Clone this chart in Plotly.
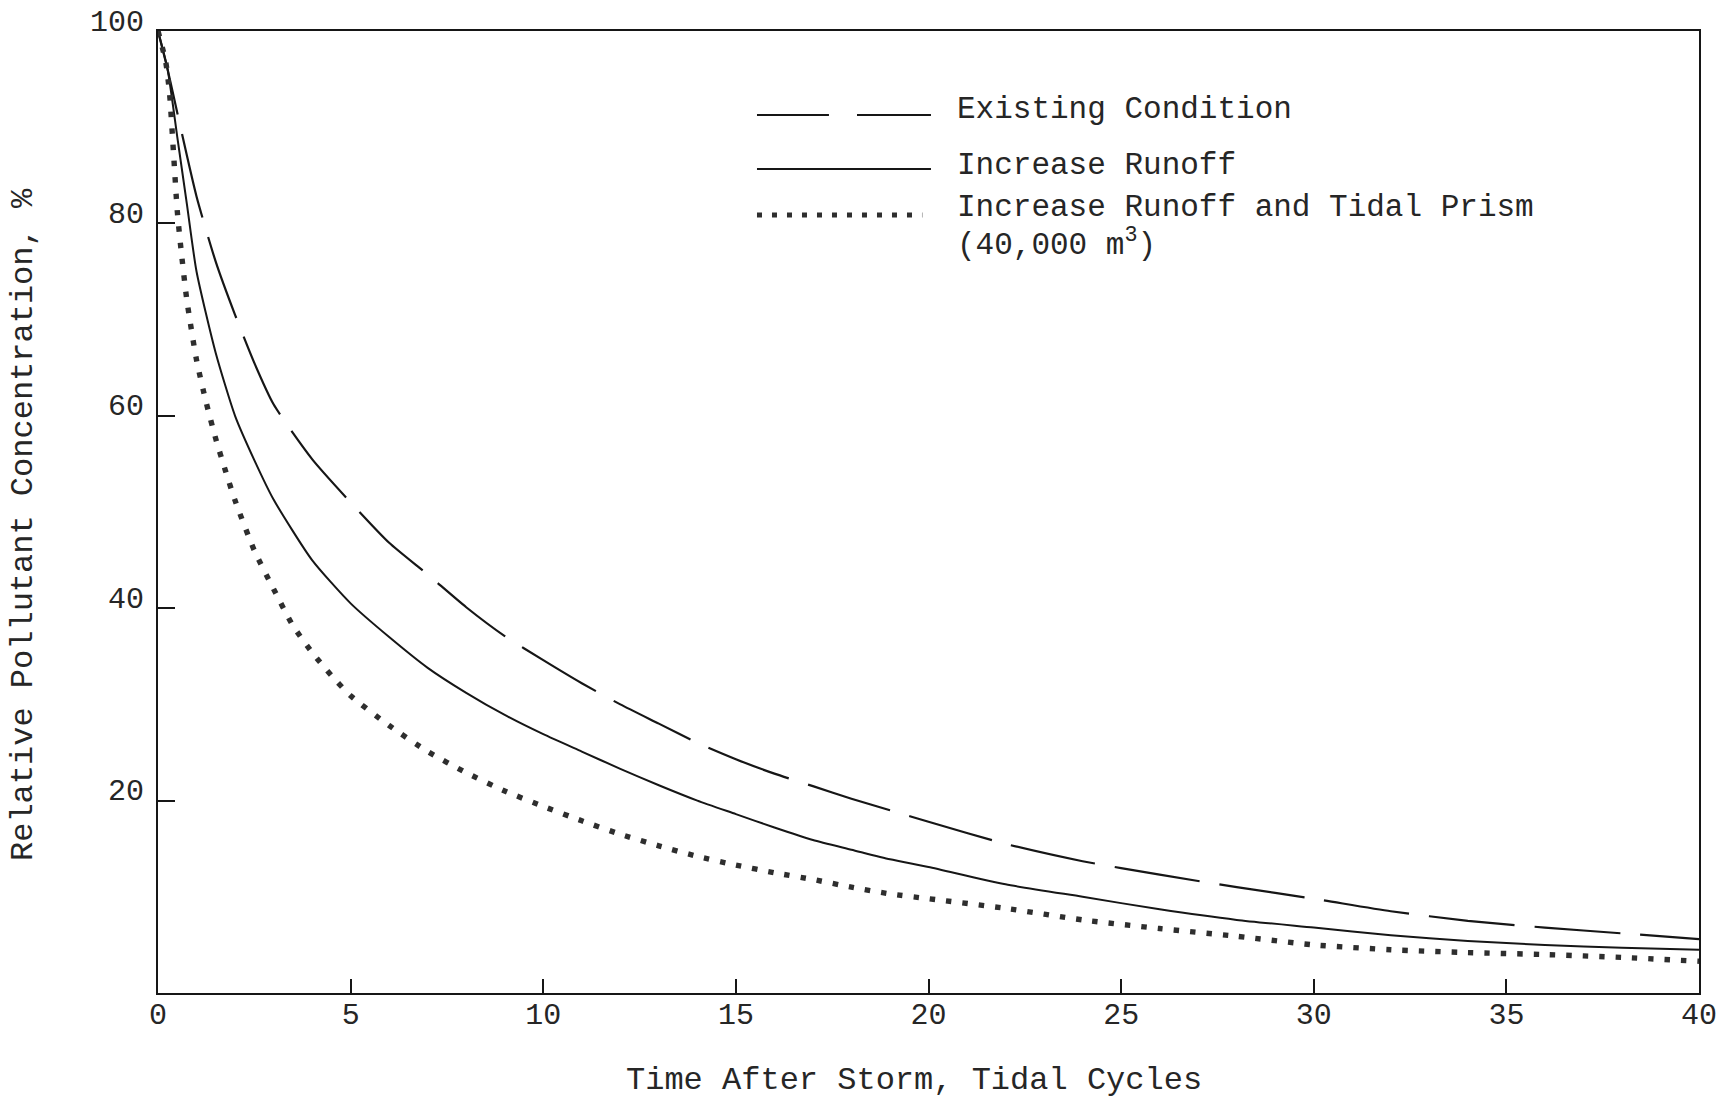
import plotly.graph_objects as go

# Time after storm (tidal cycles) and relative concentration (%) per scenario
t_existing = [0, 0.25, 0.5, 1, 1.5, 2, 2.5, 3, 4, 5, 6, 7, 8, 9, 10, 11, 12, 13, 14, 15,
              16, 17, 18, 19, 20, 22, 24, 26, 28, 30, 32, 34, 36, 38, 40]
c_existing = [100, 96, 91.5, 82.8, 76, 70.5, 65.5, 61.2, 55.5, 51.0, 46.8, 43.5, 40.1, 37.1,
              34.6, 32.2, 30.0, 28.0, 26.0, 24.3, 22.8, 21.5, 20.2, 19.0, 17.8, 15.5, 13.7,
              12.3, 11.0, 9.8, 8.5, 7.5, 6.8, 6.2, 5.6]

t_runoff = [0, 0.25, 0.5, 0.75, 1, 1.5, 2, 2.5, 3, 4, 5, 6, 7, 8, 9, 10, 11, 12, 13, 14, 15,
            16, 17, 18, 19, 20, 22, 24, 26, 28, 30, 32, 34, 36, 38, 40]
c_runoff = [100, 96, 89, 82, 75, 66.5, 60, 55.4, 51.3, 45, 40.5, 37, 33.8, 31.2, 28.9, 26.9,
            25.1, 23.3, 21.6, 20.0, 18.6, 17.2, 15.9, 14.9, 13.9, 13.1, 11.3, 10.0, 8.7, 7.6,
            6.8, 6.0, 5.4, 5.0, 4.7, 4.5]

t_prism = [0, 0.2, 0.3, 0.4, 0.5, 0.6, 0.75, 1, 1.25, 1.5, 1.75, 2, 2.5, 3, 3.5, 4, 4.5, 5,
           6, 7, 8, 9, 10, 11, 12, 13, 14, 15, 16, 17, 18, 19, 20, 22, 24, 26, 28, 30, 32,
           34, 36, 38, 40]
c_prism = [100, 96.8, 93.5, 87.5, 81.3, 77.2, 72, 65.8, 61.4, 57.6, 54.3, 51.2, 46, 42, 38.2,
           35.4, 33, 30.9, 27.8, 25.1, 22.9, 21.0, 19.4, 17.9, 16.5, 15.3, 14.2, 13.3, 12.5,
           11.8, 11.0, 10.3, 9.8, 8.8, 7.6, 6.7, 5.9, 5.0, 4.5, 4.2, 4.0, 3.7, 3.3]

x_ticks = [0, 5, 10, 15, 20, 25, 30, 35, 40]
y_ticks = [20, 40, 60, 80, 100]

legend_labels = ["Existing Condition", "Increase Runoff",
                 "Increase Runoff and Tidal Prism", "(40,000 m<sup>3</sup>)"]

FONT = "Liberation Mono, Courier New, monospace"
INK = "#161616"
TEXT = "#262626"
DOT = "#2e2e2e"

fig = go.Figure()
fig.add_trace(go.Scatter(x=t_existing, y=c_existing, mode="lines",
                         line=dict(color=INK, width=2.2, dash="86px,20px", shape="spline", smoothing=0.6)))
fig.add_trace(go.Scatter(x=t_runoff, y=c_runoff, mode="lines",
                         line=dict(color=INK, width=2, shape="spline", smoothing=0.6)))
fig.add_trace(go.Scatter(x=t_prism, y=c_prism, mode="lines",
                         line=dict(color=DOT, width=5.4, dash="5.4px,11px", shape="spline", smoothing=0.6)))

# legend keys, drawn in plot-domain coordinates
shapes = [
    dict(type="line", xref="x domain", yref="y domain", x0=0.3887, x1=0.4354, y0=0.9127, y1=0.9127,
         line=dict(color=INK, width=2.2)),
    dict(type="line", xref="x domain", yref="y domain", x0=0.4536, x1=0.5016, y0=0.9127, y1=0.9127,
         line=dict(color=INK, width=2.2)),
    dict(type="line", xref="x domain", yref="y domain", x0=0.3887, x1=0.5016, y0=0.8565, y1=0.8565,
         line=dict(color=INK, width=2)),
    dict(type="line", xref="x domain", yref="y domain", x0=0.3887, x1=0.4960, y0=0.8087, y1=0.8087,
         line=dict(color=DOT, width=5, dash="5px,10px")),
]

annotations = []
for label, yy in zip(legend_labels, [0.9189, 0.8607, 0.8170, 0.7800]):
    annotations.append(dict(text=label, xref="x domain", yref="y domain", x=0.5172, y=yy,
                            xanchor="left", yanchor="middle", showarrow=False,
                            font=dict(family=FONT, size=31, color=TEXT)))

annotations.append(dict(text="Time After Storm, Tidal Cycles", xref="paper", yref="paper",
                        x=0.4906, y=0, yshift=-87, xanchor="center", yanchor="middle",
                        showarrow=False, font=dict(family=FONT, size=32, color=TEXT)))
annotations.append(dict(text="Relative Pollutant Concentration, %", xref="paper", yref="paper",
                        x=0, y=0.4865, xshift=-134, xanchor="center", yanchor="middle",
                        textangle=-90, showarrow=False, font=dict(family=FONT, size=32, color=TEXT)))

fig.update_layout(
    width=1733, height=1100,
    margin=dict(l=158, r=34, t=31, b=107, autoexpand=False),
    paper_bgcolor="white", plot_bgcolor="white",
    showlegend=False,
    shapes=shapes,
    annotations=annotations,
    xaxis=dict(range=[0, 40], tickvals=x_ticks, ticktext=[str(v) for v in x_ticks],
               ticks="inside", ticklen=14, tickwidth=2, tickcolor=INK,
               showline=True, linewidth=2, linecolor=INK, mirror=True, automargin=False,
               showgrid=False, zeroline=False, ticklabelstandoff=-7,
               tickfont=dict(family=FONT, size=30, color=TEXT)),
    yaxis=dict(range=[0, 100], tickvals=y_ticks, ticktext=[str(v) for v in y_ticks],
               ticks="inside", ticklen=17, tickwidth=2, tickcolor=INK,
               showline=True, linewidth=2, linecolor=INK, mirror=True, automargin=False,
               showgrid=False, zeroline=False, ticklabelshift=-11, ticklabelstandoff=6,
               tickfont=dict(family=FONT, size=30, color=TEXT)),
)

fig.write_html("out.html")
